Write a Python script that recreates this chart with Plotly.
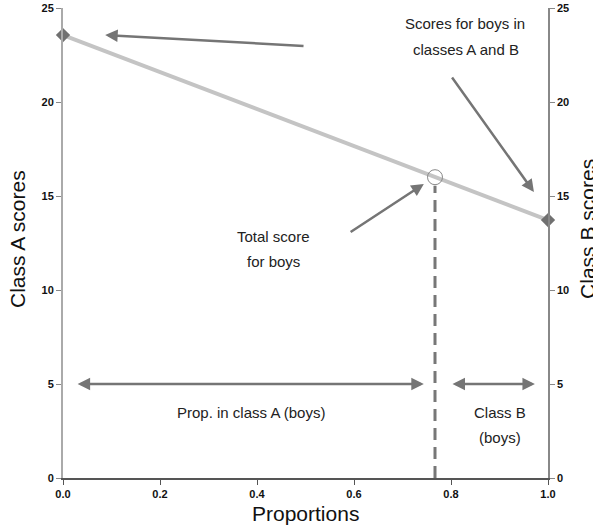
import plotly.graph_objects as go

# Data
props = [0.0, 1.0]
scores = [23.56, 13.72]
total_prop = 0.767
total_score = 16.0
x_ticks = [0.0, 0.2, 0.4, 0.6, 0.8, 1.0]
x_tick_labels = ["0.0", "0.2", "0.4", "0.6", "0.8", "1.0"]
y_ticks = [0, 5, 10, 15, 20, 25]
y_tick_labels = ["0", "5", "10", "15", "20", "25"]

ARROW = "#757575"
tickfont = dict(family="Liberation Sans Narrow, Arial Narrow, Liberation Sans", size=11, color="#111",
                weight="bold")
txtfont = dict(family="Liberation Sans, Arial", size=15, color="#222")
titlefont = dict(family="Liberation Sans, Arial", size=21, color="#111")

fig = go.Figure()
fig.add_trace(go.Scatter(x=props, y=scores, mode="lines",
                         line=dict(color="#c4c4c4", width=4), showlegend=False, cliponaxis=False))
fig.add_trace(go.Scatter(x=[total_prop, total_prop], y=[0, total_score - 0.45], mode="lines",
                         line=dict(color="#777", width=3, dash="12px,7px"), showlegend=False))
fig.add_trace(go.Scatter(x=props, y=scores, mode="markers",
                         marker=dict(symbol="diamond", size=11, color="#707070", line=dict(width=0)),
                         showlegend=False, cliponaxis=False))
fig.add_trace(go.Scatter(x=[total_prop], y=[total_score], mode="markers",
                         marker=dict(symbol="circle-open", size=15, color="#888", line=dict(width=1)),
                         showlegend=False, cliponaxis=False))
fig.add_trace(go.Scatter(x=[0.5], y=[10], yaxis="y2", mode="markers",
                         marker=dict(opacity=0), showlegend=False, hoverinfo="skip"))

def arrow(x0, y0, x1, y1, both=False):
    fig.add_annotation(x=x1, y=y1, ax=x0, ay=y0, xref="x", yref="y", axref="x", ayref="y",
                       text="", showarrow=True, arrowhead=2, arrowsize=1.0, arrowwidth=2.5,
                       arrowcolor=ARROW, arrowside="end+start" if both else "end",
                       startarrowhead=2, startarrowsize=1.0)

arrow(0.499, 22.98, 0.087, 23.56)
arrow(0.80, 21.38, 0.971, 15.21)
arrow(0.59, 13.03, 0.744, 15.64)
arrow(0.027, 5.0, 0.744, 5.0, both=True)
arrow(0.80, 5.0, 0.973, 5.0, both=True)

def label(x, y, t):
    fig.add_annotation(x=x, y=y, xref="x", yref="y", text=t, showarrow=False, font=txtfont,
                       xanchor="center", yanchor="middle")

label(0.829, 24.2, "Scores for boys in")
label(0.831, 22.77, "classes A and B")
label(0.433, 12.87, "Total score")
label(0.433, 11.49, "for boys")
label(0.388, 3.51, "Prop. in class A (boys)")
label(0.901, 3.51, "Class B")
label(0.901, 2.18, "(boys)")

# axis titles as paper annotations
fig.add_annotation(x=0.499, y=-0.0745, xref="paper", yref="paper", text="Proportions",
                   xanchor="center", yanchor="middle", showarrow=False, font=titlefont)
fig.add_annotation(x=-0.0948, y=0.5085, xref="paper", yref="paper", text="Class A scores",
                   xanchor="center", yanchor="middle", textangle=-90, showarrow=False, font=titlefont)
fig.add_annotation(x=1.0825, y=0.53, xref="paper", yref="paper", text="Class B scores",
                   xanchor="center", yanchor="middle", textangle=-90, showarrow=False, font=titlefont)

fig.update_layout(
    width=593, height=528, paper_bgcolor="white", plot_bgcolor="white",
    margin=dict(l=63, r=45, t=8, b=50),
    xaxis=dict(range=[0, 1], tickvals=x_ticks, ticktext=x_tick_labels, showgrid=False,
               zeroline=False, showline=True, linecolor="#555", linewidth=1.5, automargin=False,
               ticks="outside", ticklen=5, tickcolor="#555", tickfont=tickfont),
    yaxis=dict(range=[0, 25], tickvals=y_ticks, ticktext=y_tick_labels, showgrid=False,
               zeroline=False, showline=True, linecolor="#aaa", linewidth=2, automargin=False,
               ticks="outside", ticklen=5, tickcolor="#888", tickfont=tickfont),
    yaxis2=dict(range=[0, 25], tickvals=y_ticks, ticktext=y_tick_labels, overlaying="y", side="right",
                showgrid=False, zeroline=False, showline=True, linecolor="#888", linewidth=1.5,
                automargin=False, ticks="outside", ticklen=5, tickcolor="#888", tickfont=tickfont),
)

fig.write_html("out.html", config={"displayModeBar": False},
               post_script="document.body.style.margin='0';")
